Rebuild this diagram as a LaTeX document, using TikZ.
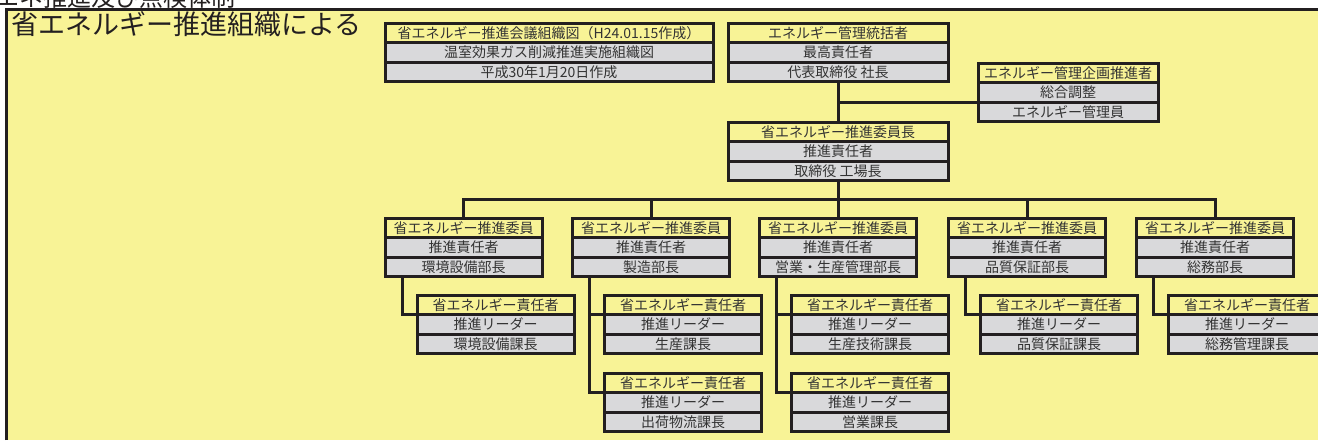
\documentclass[tikz,border=0pt]{standalone}
\usepackage{fontspec}
\setmainfont{Noto Sans CJK JP}
\usepackage{tikz}
\usetikzlibrary{positioning}
\definecolor{sheetYel}{HTML}{F8F396}
\definecolor{cellGray}{HTML}{D9D9DB}
\definecolor{lineBlk}{HTML}{231F20}
\definecolor{txtDark}{HTML}{333333}

\begin{document}
\begin{tikzpicture}[x=1pt,y=1pt,
 head/.style={rectangle,draw=lineBlk,line width=3pt,fill=sheetYel,
 minimum height=19.5pt,inner sep=0pt,outer sep=0pt,text=txtDark,
 font=\fontsize{14}{14}\selectfont},
 cell/.style={head,fill=cellGray},
 link/.style={draw=lineBlk,line width=3pt}]
\useasboundingbox (0,0) rectangle (1318,-440);
\fill[sheetYel] (6.5,-9.5) rectangle (1318,-440);
\draw[lineBlk,line width=2.5pt] (6.5,-440) -- (6.5,-9.5) -- (1318,-9.5);
\node[anchor=base west,inner sep=0pt,text=lineBlk,font=\fontsize{24}{24}\selectfont] (cut) at (-29,-6) {省エネ推進及び点検体制};
\node[anchor=west,inner sep=0pt,text=lineBlk,font=\fontsize{27}{27}\selectfont] (title) at (11,-24.5) {省エネルギー推進組織による};

\node[head,minimum width=328pt] (a1) at (549,-32.75) {省エネルギー推進会議組織図（H24.01.15作成）};
\node[cell,minimum width=328pt,below=0pt of a1] (a2) {温室効果ガス削減推進実施組織図};
\node[cell,minimum width=328pt,below=0pt of a2] (a3) {平成30年1月20日作成};

\node[head,minimum width=220pt] (b1) at (838,-32.75) {エネルギー管理統括者};
\node[cell,minimum width=220pt,below=0pt of b1] (b2) {最高責任者};
\node[cell,minimum width=220pt,below=0pt of b2] (b3) {代表取締役 社長};

\node[head,minimum width=180pt] (c1) at (1068,-72.75) {エネルギー管理企画推進者};
\node[cell,minimum width=180pt,below=0pt of c1] (c2) {総合調整};
\node[cell,minimum width=180pt,below=0pt of c2] (c3) {エネルギー管理員};

\node[head,minimum width=220pt] (d1) at (838,-131.75) {省エネルギー推進委員長};
\node[cell,minimum width=220pt,below=0pt of d1] (d2) {推進責任者};
\node[cell,minimum width=220pt,below=0pt of d2] (d3) {取締役 工場長};

\node[head,minimum width=157pt] (e11) at (463.5,-227.75) {省エネルギー推進委員};
\node[cell,minimum width=157pt,below=0pt of e11] (e12) {推進責任者};
\node[cell,minimum width=157pt,below=0pt of e12] (e13) {環境設備部長};
\node[head,minimum width=157pt] (e21) at (651,-227.75) {省エネルギー推進委員};
\node[cell,minimum width=157pt,below=0pt of e21] (e22) {推進責任者};
\node[cell,minimum width=157pt,below=0pt of e22] (e23) {製造部長};
\node[head,minimum width=157pt] (e31) at (838,-227.75) {省エネルギー推進委員};
\node[cell,minimum width=157pt,below=0pt of e31] (e32) {推進責任者};
\node[cell,minimum width=157pt,below=0pt of e32] (e33) {営業・生産管理部長};
\node[head,minimum width=157pt] (e41) at (1027,-227.75) {省エネルギー推進委員};
\node[cell,minimum width=157pt,below=0pt of e41] (e42) {推進責任者};
\node[cell,minimum width=157pt,below=0pt of e42] (e43) {品質保証部長};
\node[head,minimum width=157pt] (e51) at (1215,-227.75) {省エネルギー推進委員};
\node[cell,minimum width=157pt,below=0pt of e51] (e52) {推進責任者};
\node[cell,minimum width=157pt,below=0pt of e52] (e53) {総務部長};

\node[head,minimum width=157pt] (f11) at (495.5,-304.75) {省エネルギー責任者};
\node[cell,minimum width=157pt,below=0pt of f11] (f12) {推進リーダー};
\node[cell,minimum width=157pt,below=0pt of f12] (f13) {環境設備課長};
\node[head,minimum width=157pt] (f21) at (683,-304.75) {省エネルギー責任者};
\node[cell,minimum width=157pt,below=0pt of f21] (f22) {推進リーダー};
\node[cell,minimum width=157pt,below=0pt of f22] (f23) {生産課長};
\node[head,minimum width=157pt] (f31) at (870,-304.75) {省エネルギー責任者};
\node[cell,minimum width=157pt,below=0pt of f31] (f32) {推進リーダー};
\node[cell,minimum width=157pt,below=0pt of f32] (f33) {生産技術課長};
\node[head,minimum width=157pt] (f41) at (1059,-304.75) {省エネルギー責任者};
\node[cell,minimum width=157pt,below=0pt of f41] (f42) {推進リーダー};
\node[cell,minimum width=157pt,below=0pt of f42] (f43) {品質保証課長};
\node[head,minimum width=157pt] (f51) at (1247,-304.75) {省エネルギー責任者};
\node[cell,minimum width=157pt,below=0pt of f51] (f52) {推進リーダー};
\node[cell,minimum width=157pt,below=0pt of f52] (f53) {総務管理課長};

\node[head,minimum width=157pt] (g21) at (683,-382.75) {省エネルギー責任者};
\node[cell,minimum width=157pt,below=0pt of g21] (g22) {推進リーダー};
\node[cell,minimum width=157pt,below=0pt of g22] (g23) {出荷物流課長};
\node[head,minimum width=157pt] (g31) at (870,-382.75) {省エネルギー責任者};
\node[cell,minimum width=157pt,below=0pt of g31] (g32) {推進リーダー};
\node[cell,minimum width=157pt,below=0pt of g32] (g33) {営業課長};

\coordinate (bus) at (838,-199);
\draw[link] (b3.south) -- (d1.north);
\draw[link] (b3.south |- c3.north west) -- (c3.north west);
\draw[link] (d3.south) -- (e31.north);
\draw[link] (e11.north) |- (bus) -| (e51.north);
\draw[link] (e21.north) -- (e21.north |- bus);
\draw[link] (e41.north) -- (e41.north |- bus);
\draw[link] ([xshift=17pt]e13.south west) |- (f11.south west);
\draw[link] ([xshift=17pt]e23.south west) |- (g21.south west);
\draw[link] ([xshift=17pt]e23.south west |- f21.south west) -- (f21.south west);
\draw[link] ([xshift=17pt]e33.south west) |- (g31.south west);
\draw[link] ([xshift=17pt]e33.south west |- f31.south west) -- (f31.south west);
\draw[link] ([xshift=17pt]e43.south west) |- (f41.south west);
\draw[link] ([xshift=17pt]e53.south west) |- (f51.south west);
\end{tikzpicture}
\end{document}
